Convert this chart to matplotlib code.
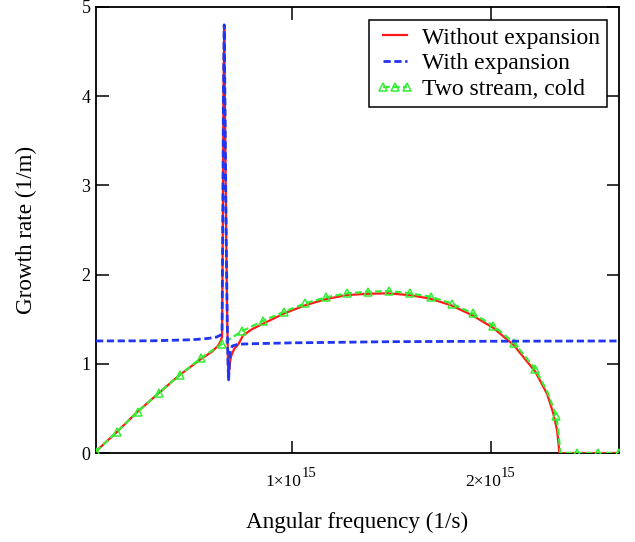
import matplotlib
matplotlib.use('Agg')
import matplotlib.pyplot as plt
import numpy as np

plt.rcParams['font.family'] = ['Liberation Serif', 'DejaVu Serif']

# ---- data (angular frequency in units of 1e15 1/s, growth rate in 1/m) ----
x_red = [0.0155, 0.12, 0.22, 0.33, 0.43, 0.54, 0.60, 0.627, 0.640, 0.648,
         0.652, 0.655, 0.659, 0.664, 0.669, 0.674, 0.678, 0.681, 0.685, 0.690,
         0.696, 0.71, 0.73, 0.754, 0.80, 0.855, 0.955, 1.064, 1.169, 1.273,
         1.378, 1.481, 1.590, 1.694, 1.799, 1.903, 2.008, 2.112, 2.221, 2.28,
         2.31, 2.33, 2.338, 2.341, 2.40, 2.64]
y_red = [0.02, 0.235, 0.455, 0.67, 0.865, 1.05, 1.14, 1.20, 1.25, 1.30,
         2.6, 4.0, 4.78, 3.6, 2.4, 1.5, 1.0, 0.84, 0.95, 1.05,
         1.10, 1.17, 1.22, 1.32, 1.39, 1.45, 1.56, 1.655, 1.725, 1.77,
         1.785, 1.79, 1.77, 1.73, 1.655, 1.545, 1.405, 1.21, 0.91, 0.66,
         0.45, 0.25, 0.08, 0.0, 0.0, 0.0]

x_blue = [0.0155, 0.30, 0.50, 0.58, 0.62, 0.640, 0.648, 0.652, 0.655, 0.659,
          0.664, 0.669, 0.674, 0.678, 0.681, 0.685, 0.690, 0.700, 0.73, 0.80,
          1.0, 1.5, 2.0, 2.64]
y_blue = [1.256, 1.258, 1.27, 1.285, 1.30, 1.32, 1.35, 2.6, 4.0, 4.80,
          3.6, 2.4, 1.5, 1.0, 0.82, 1.02, 1.15, 1.20, 1.22, 1.225,
          1.235, 1.248, 1.253, 1.256]

x_green = [0.0155, 0.1205, 0.2255, 0.3305, 0.4355, 0.5405, 0.6455, 0.7505,
           0.8555, 0.9605, 1.0655, 1.1705, 1.2755, 1.3805, 1.4855, 1.5905,
           1.6955, 1.8005, 1.9055, 2.0105, 2.1155, 2.2205, 2.28, 2.3255,
           2.337, 2.344, 2.347, 2.4305, 2.5355, 2.6405]
y_green = [0.015, 0.239, 0.463, 0.676, 0.874, 1.062, 1.219, 1.368,
           1.483, 1.584, 1.678, 1.746, 1.790, 1.808, 1.816, 1.790,
           1.752, 1.676, 1.566, 1.427, 1.230, 0.942, 0.69, 0.418,
           0.22, 0.06, 0.0, 0.0, 0.0, 0.0]
green_extra = (2.28, 2.337, 2.344, 2.347)
green_marker_idx = [i for i, xv in enumerate(x_green) if xv not in green_extra]

x_ticks = [1, 2]
x_tick_mantissa = ['1\u00d710', '2\u00d710']
x_tick_exponent = ['15', '15']
y_ticks = [0, 1, 2, 3, 4, 5]

labels = ['Without expansion', 'With expansion', 'Two stream, cold']

SCALE = 1e15

fig = plt.figure(figsize=(6.35, 5.42), dpi=100)
ax = fig.add_axes([0.1512, 0.1642, 0.8236, 0.8229])

l_red, = ax.plot(np.array(x_red) * SCALE, y_red, color='#ff1a1a', lw=1.6,
                 label=labels[0], zorder=3)
l_green, = ax.plot(np.array(x_green) * SCALE, y_green, color='#33ee33', lw=1.6,
                   dashes=(3, 1.5), marker='^', markersize=6,
                   markerfacecolor='none', markeredgecolor='#33ee33',
                   markeredgewidth=1.1, markevery=green_marker_idx,
                   label=labels[2], zorder=4)
l_blue, = ax.plot(np.array(x_blue) * SCALE, y_blue, color='#1f35f0', lw=2.0,
                  dashes=(2.6, 1.3), label=labels[1], zorder=5)

ax.set_xlim(x_green[0] * SCALE, x_green[-1] * SCALE)
ax.set_ylim(0, 5)

ax.set_xticks([v * SCALE for v in x_ticks])
ax.set_xticklabels(['' for _ in x_ticks])
for v, m, e in zip(x_ticks, x_tick_mantissa, x_tick_exponent):
    ax.annotate(m, xy=(v * SCALE, 0), xycoords=('data', 'axes fraction'),
                xytext=(6.8, -23.5), textcoords='offset points',
                ha='right', va='baseline', fontsize=12.5)
    ax.annotate(e, xy=(v * SCALE, 0), xycoords=('data', 'axes fraction'),
                xytext=(7.0, -17.0), textcoords='offset points',
                ha='left', va='baseline', fontsize=10.5)
ax.set_yticks(y_ticks)
ax.set_yticklabels([str(v) for v in y_ticks])

ax.tick_params(direction='in', length=9, width=1.1, top=True, right=True,
               labelsize=13, colors='black')
ax.tick_params(axis='y', pad=4)
for s in ax.spines.values():
    s.set_linewidth(1.3)

ax.set_xlabel('Angular frequency (1/s)', fontsize=16.7)
ax.xaxis.set_label_coords(0.5, -0.132)
ax.set_ylabel('Growth rate (1/m)', fontsize=16.7)
ax.yaxis.set_label_coords(-0.113, 0.5)

leg = ax.legend([l_red, l_blue, l_green], [labels[0], labels[1], labels[2]],
                loc='upper right', bbox_to_anchor=(0.977, 0.971),
                borderaxespad=0, fontsize=17, frameon=True, fancybox=False,
                edgecolor='black', framealpha=1, borderpad=0.3,
                handletextpad=0.35, handlelength=1.6, labelspacing=0.18,
                numpoints=3)
leg.get_frame().set_linewidth(1.1)

fig.savefig('out.png', dpi=100)
